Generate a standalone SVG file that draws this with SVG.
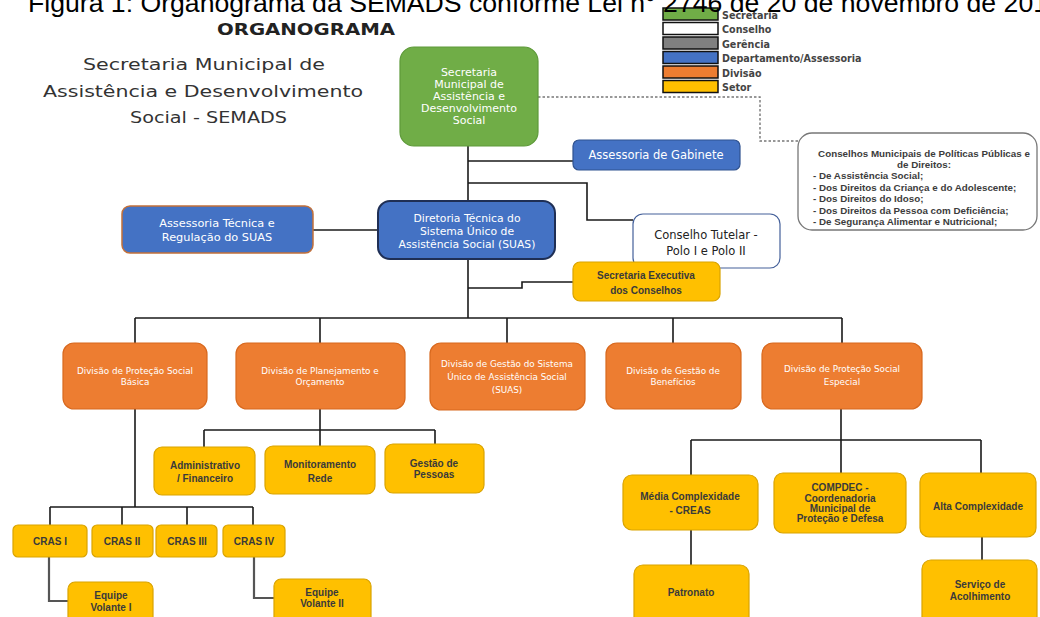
<svg xmlns="http://www.w3.org/2000/svg" width="1040" height="617" viewBox="0 0 1040 617">
<style>
.cap{font-family:"Liberation Sans",Arial,sans-serif;font-size:26px;fill:#000}
.hd{font-family:"DejaVu Sans",sans-serif;font-weight:bold;font-size:16px;fill:#222}
.ttl{font-family:"DejaVu Sans",sans-serif;font-size:16px;fill:#333}
.lg{font-family:"DejaVu Sans",sans-serif;font-weight:bold;font-size:9.6px;fill:#444}
.sw{stroke:#111;stroke-width:1.5}
.green{fill:#70AD47;stroke:#5E9A3A;stroke-width:1.2}
.blue{fill:#4472C4;stroke:#2F528F;stroke-width:1.2}
.blue2{fill:#4472C4;stroke:#1F2F55;stroke-width:2}
.blue3{fill:#4472C4;stroke:#C2703A;stroke-width:1.5}
.orange{fill:#ED7D31;stroke:#D8691F;stroke-width:1.2}
.yellow{fill:#FFC000;stroke:#D9A300;stroke-width:1.2}
.white{fill:#fff;stroke:#44609A;stroke-width:1.2}
.cbox{fill:#fff;stroke:#777;stroke-width:1.3}
.wt{font-family:"DejaVu Sans",sans-serif;fill:#fff;text-anchor:middle}
.dt{font-family:"DejaVu Sans",sans-serif;fill:#222;text-anchor:middle}
.ot{font-family:"DejaVu Sans",sans-serif;font-size:8.8px;fill:#fff;text-anchor:middle}
.yt{font-family:"Liberation Sans",Arial,sans-serif;font-weight:bold;font-size:10px;fill:#3a3a3a;text-anchor:middle}
.ct{font-family:"Liberation Sans",Arial,sans-serif;font-weight:bold;font-size:9.8px;fill:#3c3c3c}
.ln{fill:none;stroke:#1a1a1a;stroke-width:1.6}
.gl{fill:none;stroke:#555;stroke-width:2.2}
.dl{fill:none;stroke:#777;stroke-width:1.4;stroke-dasharray:2.5,2}
</style>

<g id="connectors">
  <path class="dl" d="M538,97 H760 V141 H798"/>
  <path class="ln" d="M468,146 V318"/>
  <path class="ln" d="M468,161 H573"/>
  <path class="ln" d="M468,183 H587 V220 H633"/>
  <path class="ln" d="M313,230 H378"/>
  <path class="ln" d="M468,288 H522 V282 H573"/>
  <path class="ln" d="M135,318 H842"/>
  <path class="ln" d="M135,318 V343 M320,318 V343 M507,318 V343 M673,318 V343 M842,318 V343"/>
  <path class="ln" d="M320,409 V430 M204,430 H435 M204,430 V447 M320,430 V446 M435,430 V444"/>
  <path class="ln" d="M135,409 V507 M50,507 H253 M50,507 V525 M122,507 V525 M187,507 V525 M253,507 V525"/>
  <path class="gl" d="M49,557 V601 H68"/>
  <path class="gl" d="M254,557 V598 H274"/>
  <path class="ln" d="M841,409 V473 M691,440 H981 M691,440 V475 M981,440 V473"/>
  <path class="ln" d="M691,530 V565"/>
  <path class="ln" d="M982,537 V560"/>
</g>

<g id="legend">
  <rect class="sw" x="663" y="8" width="55" height="12" fill="#70AD47"/>
  <rect class="sw" x="663" y="22.5" width="55" height="12" fill="#FFFFFF"/>
  <rect class="sw" x="663" y="37" width="55" height="12" fill="#808080"/>
  <rect class="sw" x="663" y="51.5" width="55" height="12" fill="#4472C4"/>
  <rect class="sw" x="663" y="66" width="55" height="12" fill="#ED7D31"/>
  <rect class="sw" x="663" y="80.5" width="55" height="12" fill="#FFC000"/>
  <text class="lg" x="722" y="19">Secretaria</text>
  <text class="lg" x="722" y="33">Conselho</text>
  <text class="lg" x="722" y="47.5">Gerência</text>
  <text class="lg" x="722" y="62">Departamento/Assessoria</text>
  <text class="lg" x="722" y="76.5">Divisão</text>
  <text class="lg" x="722" y="91">Setor</text>
</g>

<g id="caption">
  <text class="cap" x="28" y="12" textLength="1020" lengthAdjust="spacingAndGlyphs">Figura 1: Organograma da SEMADS conforme Lei n° 2746 de 20 de novembro de 201</text>
</g>

<g id="title">
  <text class="hd" x="217" y="35" textLength="178" lengthAdjust="spacingAndGlyphs">ORGANOGRAMA</text>
  <text class="ttl" x="83" y="70" textLength="242" lengthAdjust="spacingAndGlyphs">Secretaria Municipal de</text>
  <text class="ttl" x="43" y="97" textLength="320" lengthAdjust="spacingAndGlyphs">Assistência e Desenvolvimento</text>
  <text class="ttl" x="130" y="123" textLength="157" lengthAdjust="spacingAndGlyphs">Social - SEMADS</text>
</g>

<g id="n-secretaria">
  <rect class="green" x="400" y="47" width="138" height="99" rx="14"/>
  <text class="wt" font-size="11" x="469" y="76">Secretaria</text>
  <text class="wt" font-size="11" x="469" y="88">Municipal de</text>
  <text class="wt" font-size="11" x="469" y="100">Assistência e</text>
  <text class="wt" font-size="11" x="469" y="112">Desenvolvimento</text>
  <text class="wt" font-size="11" x="469" y="124">Social</text>
</g>

<g id="n-gabinete">
  <rect class="blue" x="573" y="140" width="167" height="30" rx="6"/>
  <text class="wt" font-size="11.5" x="656" y="159">Assessoria de Gabinete</text>
</g>

<g id="n-conselhos">
  <rect class="cbox" x="798" y="133" width="239" height="97" rx="14"/>
  <text class="ct" x="924" y="156.5" text-anchor="middle">Conselhos Municipais de Políticas Públicas e</text>
  <text class="ct" x="924" y="167.5" text-anchor="middle">de Direitos:</text>
  <text class="ct" x="813" y="178.5">- De Assistência Social;</text>
  <text class="ct" x="813" y="190.5">- Dos Direitos da Criança e do Adolescente;</text>
  <text class="ct" x="813" y="201.5">- Dos Direitos do Idoso;</text>
  <text class="ct" x="813" y="213.5">- Dos Direitos da Pessoa com Deficiência;</text>
  <text class="ct" x="813" y="224.5">- De Segurança Alimentar e Nutricional;</text>
</g>

<g id="n-tutelar">
  <rect class="white" x="633" y="214" width="147" height="54" rx="10"/>
  <text class="dt" font-size="11.5" x="706" y="239">Conselho Tutelar -</text>
  <text class="dt" font-size="11.5" x="706" y="255">Polo I e Polo II</text>
</g>

<g id="n-diretoria">
  <rect class="blue2" x="378" y="201" width="177" height="58" rx="12"/>
  <text class="wt" font-size="10.8" x="467" y="222">Diretoria Técnica do</text>
  <text class="wt" font-size="10.8" x="467" y="235">Sistema Único de</text>
  <text class="wt" font-size="10.8" x="467" y="248">Assistência Social (SUAS)</text>
</g>

<g id="n-assessoria-tecnica">
  <rect class="blue3" x="122" y="206" width="191" height="47" rx="8"/>
  <text class="wt" font-size="11.3" x="217" y="227">Assessoria Técnica e</text>
  <text class="wt" font-size="11.3" x="217" y="241">Regulação do SUAS</text>
</g>

<g id="n-sec-executiva">
  <rect class="yellow" x="573" y="262" width="147" height="39" rx="7"/>
  <text class="yt" x="646" y="279">Secretaria Executiva</text>
  <text class="yt" x="646" y="294">dos Conselhos</text>
</g>

<g id="n-div-basica">
  <rect class="orange" x="63" y="343" width="144" height="66" rx="11"/>
  <text class="ot" x="135" y="374">Divisão de Proteção Social</text>
  <text class="ot" x="135" y="385">Básica</text>
</g>
<g id="n-div-planejamento">
  <rect class="orange" x="236" y="343" width="169" height="66" rx="11"/>
  <text class="ot" x="320" y="374">Divisão de Planejamento e</text>
  <text class="ot" x="320" y="385">Orçamento</text>
</g>
<g id="n-div-gestao-suas">
  <rect class="orange" x="430" y="343" width="155" height="67" rx="11"/>
  <text class="ot" x="507" y="367">Divisão de Gestão do Sistema</text>
  <text class="ot" x="507" y="380">Único de Assistência Social</text>
  <text class="ot" x="507" y="393">(SUAS)</text>
</g>
<g id="n-div-beneficios">
  <rect class="orange" x="606" y="343" width="135" height="66" rx="11"/>
  <text class="ot" x="673" y="374">Divisão de Gestão de</text>
  <text class="ot" x="673" y="385">Benefícios</text>
</g>
<g id="n-div-especial">
  <rect class="orange" x="762" y="343" width="160" height="66" rx="11"/>
  <text class="ot" x="842" y="372">Divisão de Proteção Social</text>
  <text class="ot" x="842" y="385">Especial</text>
</g>

<g id="n-administrativo">
  <rect class="yellow" x="154" y="447" width="101" height="48" rx="8"/>
  <text class="yt" x="205" y="469">Administrativo</text>
  <text class="yt" x="205" y="482">/ Financeiro</text>
</g>
<g id="n-monitoramento">
  <rect class="yellow" x="265" y="446" width="110" height="48" rx="8"/>
  <text class="yt" x="320" y="468">Monitoramento</text>
  <text class="yt" x="320" y="482">Rede</text>
</g>
<g id="n-gestao-pessoas">
  <rect class="yellow" x="385" y="444" width="99" height="49" rx="8"/>
  <text class="yt" x="434" y="467">Gestão de</text>
  <text class="yt" x="434" y="478">Pessoas</text>
</g>

<g id="n-cras1">
  <rect class="yellow" x="13" y="525" width="74" height="32" rx="5"/>
  <text class="yt" x="50" y="544.5">CRAS I</text>
</g>
<g id="n-cras2">
  <rect class="yellow" x="92" y="525" width="61" height="32" rx="5"/>
  <text class="yt" x="122" y="544.5">CRAS II</text>
</g>
<g id="n-cras3">
  <rect class="yellow" x="156" y="525" width="61" height="32" rx="5"/>
  <text class="yt" x="187" y="544.5">CRAS III</text>
</g>
<g id="n-cras4">
  <rect class="yellow" x="223" y="525" width="62" height="32" rx="5"/>
  <text class="yt" x="254" y="544.5">CRAS IV</text>
</g>
<g id="n-equipe1">
  <rect class="yellow" x="68" y="582" width="85" height="50" rx="7"/>
  <text class="yt" x="111" y="598.5">Equipe</text>
  <text class="yt" x="111" y="610.5">Volante I</text>
</g>
<g id="n-equipe2">
  <rect class="yellow" x="274" y="579" width="97" height="50" rx="7"/>
  <text class="yt" x="322" y="595.5">Equipe</text>
  <text class="yt" x="322" y="606.5">Volante II</text>
</g>

<g id="n-media">
  <rect class="yellow" x="623" y="475" width="135" height="55" rx="9"/>
  <text class="yt" x="690" y="500">Média Complexidade</text>
  <text class="yt" x="690" y="514">- CREAS</text>
</g>
<g id="n-compdec">
  <rect class="yellow" x="774" y="473" width="132" height="60" rx="9"/>
  <text class="yt" x="840" y="490.5">COMPDEC -</text>
  <text class="yt" x="840" y="501.5">Coordenadoria</text>
  <text class="yt" x="840" y="511.5">Municipal de</text>
  <text class="yt" x="840" y="521.5">Proteção e Defesa</text>
</g>
<g id="n-alta">
  <rect class="yellow" x="920" y="473" width="116" height="64" rx="9"/>
  <text class="yt" x="978" y="509.5">Alta Complexidade</text>
</g>
<g id="n-patronato">
  <rect class="yellow" x="634" y="565" width="115" height="62" rx="9"/>
  <text class="yt" x="691" y="595.5">Patronato</text>
</g>
<g id="n-acolhimento">
  <rect class="yellow" x="922" y="560" width="115" height="66" rx="9"/>
  <text class="yt" x="980" y="587.5">Serviço de</text>
  <text class="yt" x="980" y="599.5">Acolhimento</text>
</g>
</svg>
